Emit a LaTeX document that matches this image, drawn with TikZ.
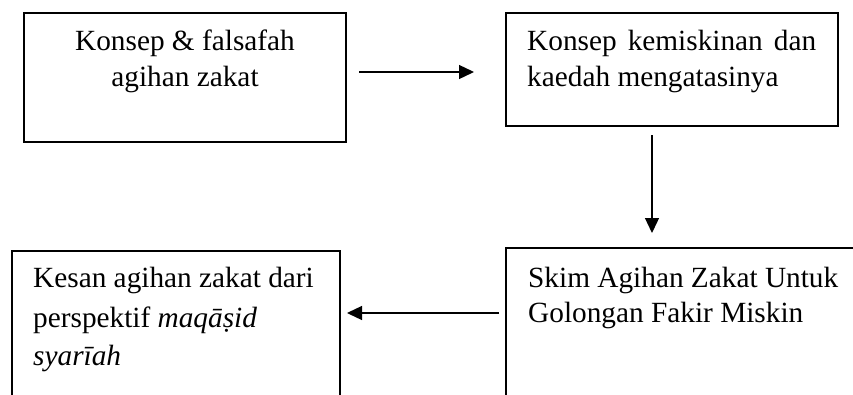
\documentclass[tikz,border=0pt]{standalone}
\usepackage{fontspec}
\setmainfont{Liberation Serif}
\usetikzlibrary{arrows.meta}
\begin{document}
\begin{tikzpicture}[x=1pt,y=-1pt,
  boxstyle/.style={draw=black,line width=1.6pt},
  txt/.style={anchor=base west,inner sep=0pt,font=\fontsize{29.3}{36}\selectfont},
  ctxt/.style={anchor=base,inner sep=0pt,font=\fontsize{29.3}{36}\selectfont},
  arr/.style={line width=1.3pt,-{Triangle[length=15pt,width=14pt]}}]
\useasboundingbox (0,0) rectangle (853,394);
\clip (0,0) rectangle (853,394);
% boxes
\draw[boxstyle] (24,13) rectangle (346,142);
\draw[boxstyle] (506,13) rectangle (838,126);
\draw[boxstyle] (506,248) rectangle (880,430);
\draw[boxstyle] (12,251) rectangle (340,430);
% texts
\node[ctxt] (t1a) at (185,50) {Konsep \& falsafah};
\node[ctxt] (t1b) at (185,86) {agihan zakat};
\node[txt] (t2a) at (527,50) {\makebox[289pt][s]{Konsep kemiskinan dan}};
\node[txt] (t2b) at (527,86) {kaedah mengatasinya};
\node[txt] (t3a) at (528,287) {Skim Agihan Zakat Untuk};
\node[txt] (t3b) at (528,322) {Golongan Fakir Miskin};
\node[txt] (t4a) at (33,287) {Kesan agihan zakat dari};
\node[txt] (t4b) at (33,327) {perspektif \textit{maqāṣid}};
\node[txt] (t4c) at (33,365) {\textit{syarīah}};
% connectors
\coordinate (a1s) at (359,72);
\coordinate (a1e) at (474,72);
\coordinate (a2s) at (652,135);
\coordinate (a2e) at (652,233);
\coordinate (a3s) at (499,313);
\coordinate (a3e) at (347,313);
\draw[arr] (a1s) -- (a1e);
\draw[arr] (a2s) -- (a2e);
\draw[arr] (a3s) -- (a3e);
\end{tikzpicture}
\end{document}
